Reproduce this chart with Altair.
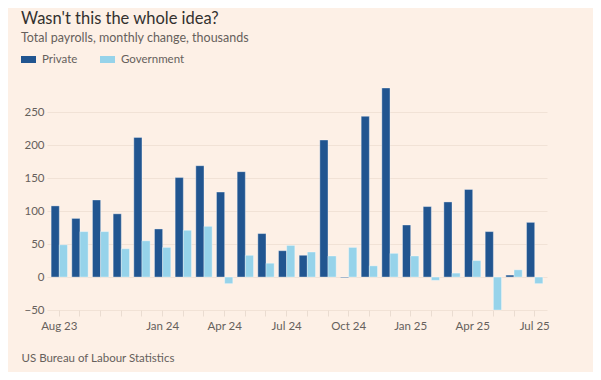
import altair as alt
import pandas as pd

months = ["Aug 23", "Sep 23", "Oct 23", "Nov 23", "Dec 23", "Jan 24", "Feb 24", "Mar 24",
          "Apr 24", "May 24", "Jun 24", "Jul 24", "Aug 24", "Sep 24", "Oct 24", "Nov 24",
          "Dec 24", "Jan 25", "Feb 25", "Mar 25", "Apr 25", "May 25", "Jun 25", "Jul 25"]
private = [108, 89, 117, 96, 212, 73, 151, 169, 129, 160, 66, 40,
           33, 208, -1, 244, 287, 79, 107, 114, 133, 69, 3, 83]
government = [49, 69, 69, 43, 55, 45, 71, 77, -10, 33, 21, 48,
              38, 32, 45, 17, 36, 32, -5, 6, 25, -50, 11, -10]
series = ["Private", "Government"]
shown_labels = ["Aug 23", "Jan 24", "Apr 24", "Jul 24", "Oct 24", "Jan 25", "Apr 25", "Jul 25"]
y_ticks = [-50, 0, 50, 100, 150, 200, 250]

rows = []
for m, p, g in zip(months, private, government):
    rows.append({"month": m, "series": "Private", "value": p})
    rows.append({"month": m, "series": "Government", "value": g})
df = pd.DataFrame(rows)

BG = "#fdf0e6"
GREY = "#66605c"
FONT = "Lato"

label_expr = "indexof(" + str(shown_labels).replace("'", '"') + ", datum.label) >= 0 ? datum.label : ''"

chart = alt.Chart(df).mark_bar(stroke="white", strokeOpacity=0.45, strokeWidth=0.8).encode(
    x=alt.X("month:N", sort=months,
            scale=alt.Scale(paddingInner=0.21, paddingOuter=0.2),
            axis=alt.Axis(title="US Bureau of Labour Statistics", labelExpr=label_expr,
                          labelAngle=0, domain=False, ticks=True, tickSize=6,
                          tickColor="#eadcd1", labelPadding=4, labelFontSize=11.5,
                          labelColor=GREY, labelFont=FONT, grid=False,
                          titleFont=FONT, titleFontSize=11.5, titleColor=GREY,
                          titleFontWeight="normal", titleAnchor="start", titleAlign="left",
                          titleX=-26, titleY=51, titleBaseline="alphabetic")),
    xOffset=alt.XOffset("series:N", sort=series, scale=alt.Scale(paddingInner=0, paddingOuter=0)),
    y=alt.Y("value:Q", scale=alt.Scale(domain=[-50, 290], nice=False, zero=False),
            axis=alt.Axis(title=None, values=y_ticks, domain=False, ticks=False,
                          labelPadding=3, labelFontSize=11.5, labelColor=GREY, labelFont=FONT,
                          grid=True, gridColor="#f1e2d6", gridWidth=1)),
    color=alt.Color("series:N", sort=series,
                    scale=alt.Scale(domain=series, range=["#215590", "#96d3ea"]),
                    legend=alt.Legend(title=None, orient="none", legendX=-26, legendY=-34,
                                      direction="horizontal",
                                      symbolType="M-1,-0.47H1V0.47H-1Z", symbolSize=225,
                                      symbolStrokeWidth=0, symbolOpacity=1,
                                      labelFont=FONT, labelFontSize=11.5, labelColor=GREY,
                                      labelOffset=6, columnPadding=22)),
).properties(
    width=500,
    height=224,
    autosize=alt.AutoSizeParams(type="none"),
    padding={"left": 39, "top": 78, "right": 46, "bottom": 62},
    background=BG,
    title=alt.TitleParams(
        text="Wasn't this the whole idea?",
        subtitle="Total payrolls, monthly change, thousands",
        anchor="start", frame="group", dx=-26, offset=8,
        font=FONT, fontSize=16.5, fontWeight="normal", color="#33302e",
        subtitleFont=FONT, subtitleFontSize=12.5, subtitleColor=GREY, subtitlePadding=4,
    ),
).configure_view(stroke=None, fill=BG)

chart.save("out.html", embed_options={"renderer": "svg", "actions": False})
